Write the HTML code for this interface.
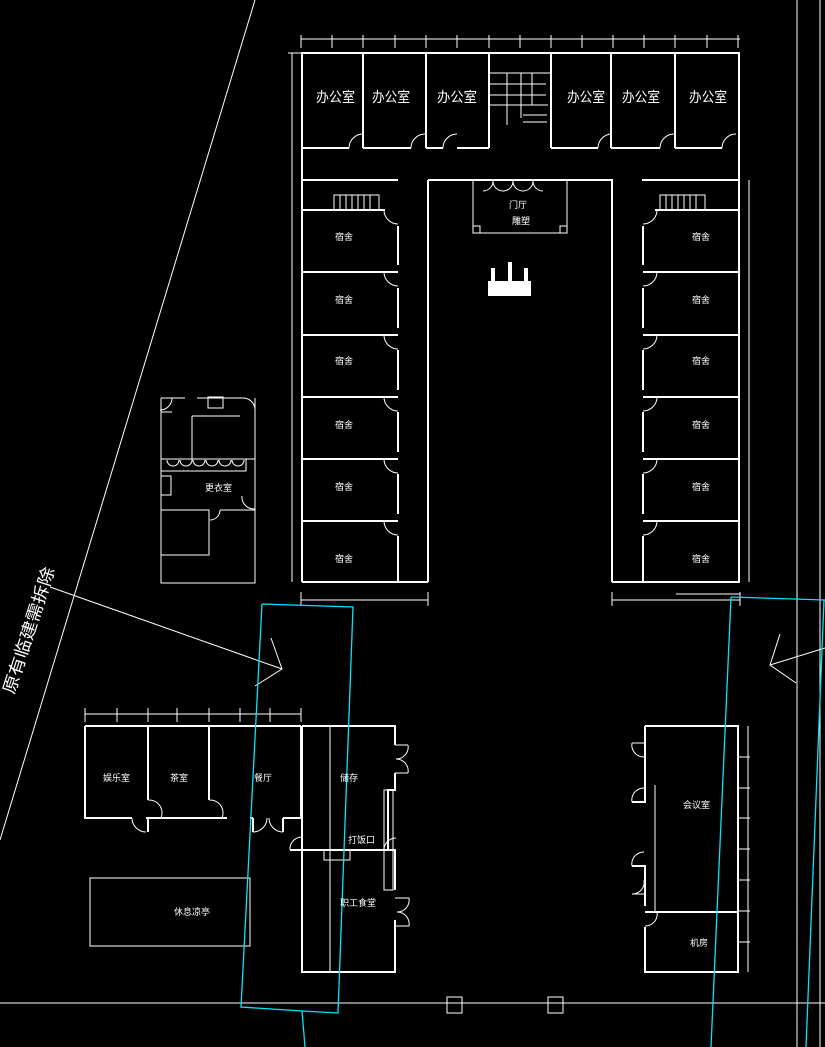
<!DOCTYPE html>
<html><head><meta charset="utf-8"><style>
html,body{margin:0;padding:0;background:#000;}
svg{display:block}
text{font-family:"Liberation Sans","Noto Sans CJK SC",sans-serif;fill:#fff}
</style></head><body>
<svg width="825" height="1047" viewBox="0 0 825 1047" xmlns="http://www.w3.org/2000/svg">
<rect width="825" height="1047" fill="#000"/>
<g stroke="#fff" fill="none">
<line x1="797" y1="0" x2="797" y2="1047" stroke-width="1"/>
<line x1="820" y1="0" x2="820" y2="1047" stroke-width="1"/>
<line x1="255" y1="0" x2="0" y2="840" stroke-width="1"/>
<line x1="50" y1="587" x2="282" y2="669" stroke-width="1"/>
<polyline points="271,638 282,669 255,686" stroke-width="1"/>
<line x1="770" y1="665" x2="825" y2="648" stroke-width="1"/>
<polyline points="780,634 770,665 796,683" stroke-width="1"/>
<line x1="0" y1="1003" x2="825" y2="1003" stroke-width="1"/>
<rect x="447" y="997" width="15" height="16" stroke-width="1"/>
<rect x="548" y="997" width="15" height="16" stroke-width="1"/>

<line x1="301" y1="39" x2="740" y2="39" stroke-width="1"/>
<g stroke-width="1">
<line x1="301" y1="35" x2="301" y2="48"/><line x1="332" y1="35" x2="332" y2="48"/><line x1="363" y1="35" x2="363" y2="48"/><line x1="395" y1="35" x2="395" y2="48"/><line x1="426" y1="35" x2="426" y2="48"/><line x1="457" y1="35" x2="457" y2="48"/><line x1="489" y1="35" x2="489" y2="48"/><line x1="520" y1="35" x2="520" y2="48"/><line x1="551" y1="35" x2="551" y2="48"/><line x1="582" y1="35" x2="582" y2="48"/><line x1="613" y1="35" x2="613" y2="48"/><line x1="644" y1="35" x2="644" y2="48"/><line x1="675" y1="35" x2="675" y2="48"/><line x1="707" y1="35" x2="707" y2="48"/><line x1="738" y1="35" x2="738" y2="48"/>
</g>
<line x1="292" y1="53" x2="292" y2="582" stroke-width="1"/>
<line x1="749" y1="180" x2="749" y2="582" stroke-width="1"/>
<line x1="288" y1="53" x2="301" y2="53" stroke-width="1"/>

<g stroke-width="2">
<line x1="301" y1="53" x2="740" y2="53"/>
<line x1="302" y1="53" x2="302" y2="148"/>
<line x1="739" y1="53" x2="739" y2="582"/>
<line x1="363" y1="53" x2="363" y2="148"/>
<line x1="426" y1="53" x2="426" y2="148"/>
<line x1="489" y1="53" x2="489" y2="148"/>
<line x1="551" y1="53" x2="551" y2="148"/>
<line x1="611" y1="53" x2="611" y2="148"/>
<line x1="675" y1="53" x2="675" y2="148"/>
<line x1="302" y1="148" x2="349" y2="148"/><line x1="363" y1="148" x2="411" y2="148"/><line x1="426" y1="148" x2="443" y2="148"/><line x1="457" y1="148" x2="489" y2="148"/>
<line x1="551" y1="148" x2="598" y2="148"/><line x1="611" y1="148" x2="660" y2="148"/><line x1="675" y1="148" x2="722" y2="148"/>
<line x1="302" y1="180" x2="398" y2="180"/><line x1="428" y1="180" x2="613" y2="180"/><line x1="642" y1="180" x2="740" y2="180"/>
<line x1="302" y1="148" x2="302" y2="582"/>
<line x1="302" y1="582" x2="428" y2="582"/><line x1="428" y1="180" x2="428" y2="582"/>
<line x1="612" y1="180" x2="612" y2="582"/><line x1="612" y1="582" x2="740" y2="582"/>
</g>
<g stroke-width="1">
<path d="M349,148 a14,14 0 0 1 14,-14"/><path d="M411,148 a14,14 0 0 1 14,-14"/><path d="M443,148 a14,14 0 0 1 14,-14"/>
<path d="M598,148 a14,14 0 0 1 14,-14"/><path d="M660,148 a14,14 0 0 1 14,-14"/><path d="M722,148 a14,14 0 0 1 14,-14"/>
<line x1="489" y1="73" x2="551" y2="73"/><line x1="489" y1="84" x2="546" y2="84"/><line x1="489" y1="95" x2="546" y2="95"/><line x1="489" y1="105" x2="548" y2="105"/>
<line x1="507" y1="73" x2="507" y2="125"/><line x1="521" y1="73" x2="521" y2="118"/><line x1="532" y1="73" x2="532" y2="105"/>
<line x1="523" y1="115" x2="547" y2="115"/><line x1="523" y1="122" x2="547" y2="122"/>
<rect x="473" y="180" width="94" height="53"/>
<path d="M483,191 a10,10 0 0 0 10,-10 M503,191 a10,10 0 0 1 -10,-10 M503,191 a10,10 0 0 0 10,-10 M523,191 a10,10 0 0 1 -10,-10 M523,191 a10,10 0 0 0 10,-10 M543,191 a10,10 0 0 1 -10,-10"/>
<rect x="473" y="226" width="7" height="7"/><rect x="560" y="226" width="7" height="7"/>
</g>
<rect x="488" y="281" width="43" height="15" fill="#fff" stroke="none"/>
<rect x="491" y="268" width="4" height="14" fill="#fff" stroke="none"/><rect x="508" y="262" width="4" height="20" fill="#fff" stroke="none"/><rect x="524" y="268" width="4" height="14" fill="#fff" stroke="none"/>

<g stroke-width="2">
<path d="M302,210 H385 M302,272 H398 M302,335 H398 M302,397 H398 M302,459 H398 M302,521 H398"/>
<path d="M398,226 V265 M398,288 V328 M398,350 V390 M398,412 V452 M398,474 V514 M398,536 V582"/>
<path d="M655,210 H740 M643,272 H740 M643,335 H740 M643,397 H740 M643,459 H740 M643,521 H740"/>
<path d="M643,226 V265 M643,288 V328 M643,350 V390 M643,412 V452 M643,474 V514 M643,536 V582"/>
</g>
<g stroke-width="1">
<path d="M384,210 a14,14 0 0 0 14,14 M384,272 a14,14 0 0 0 14,14 M384,335 a14,14 0 0 0 14,14 M384,397 a14,14 0 0 0 14,14 M384,459 a14,14 0 0 0 14,14 M384,521 a14,14 0 0 0 14,14"/>
<path d="M657,210 a14,14 0 0 1 -14,14 M657,272 a14,14 0 0 1 -14,14 M657,335 a14,14 0 0 1 -14,14 M657,397 a14,14 0 0 1 -14,14 M657,459 a14,14 0 0 1 -14,14 M657,521 a14,14 0 0 1 -14,14"/>
<rect x="334" y="195" width="45" height="15"/><path d="M340,195V210M346,195V210M352,195V210M358,195V210M364,195V210M370,195V210"/>
<rect x="660" y="195" width="45" height="15"/><path d="M666,195V210M672,195V210M678,195V210M684,195V210M690,195V210M696,195V210"/>
<line x1="301" y1="600" x2="428" y2="600"/><line x1="301" y1="592" x2="301" y2="606"/><line x1="428" y1="592" x2="428" y2="606"/>
<line x1="612" y1="600" x2="740" y2="600"/><line x1="612" y1="592" x2="612" y2="606"/><line x1="740" y1="592" x2="740" y2="606"/>
<line x1="676" y1="594" x2="740" y2="594"/>
</g>

<g stroke-width="1">
<path d="M161,398 H185 M197,398 H242 M255,398 V583 H161 V398"/>
<path d="M161,412 H172 M172,398 a12,12 0 0 1 -12,12"/>
<rect x="208" y="397" width="15" height="11"/>
<path d="M192,416 V460 M192,416 H240 M242,398 a12,12 0 0 1 13,12"/>
<path d="M161,459 H255 M161,471 H246 V459"/>
<path d="M167,460 a6,6 0 0 0 12,0 M180,460 a6,6 0 0 0 12,0 M193,460 a6,6 0 0 0 12,0 M206,460 a6,6 0 0 0 12,0 M219,460 a6,6 0 0 0 12,0 M232,460 a6,6 0 0 0 12,0"/>
<rect x="161" y="476" width="10" height="19"/>
<path d="M161,510 H209 V555 H161 M220,510 H255 M242,496 a12,12 0 0 0 13,13 M220,510 a10,10 0 0 1 -10,10"/>
</g>

<g stroke-width="1">
<line x1="85" y1="714" x2="301" y2="714"/>
<path d="M85,708V722 M117,708V722 M148,708V722 M177,708V722 M209,708V722 M240,708V722 M270,708V722 M301,708V722"/>
</g>
<g stroke-width="2">
<path d="M85,726 H301 M85,726 V818 H132 M146,818 H227 M148,726 V800 M209,726 V800 M250,818 H253 M283,818 H301 V726"/>
<path d="M148,818 V832 M253,818 V832 M283,818 V832"/>
<path d="M302,726 H395 V745 M395,773 V790 H388 V850 M302,726 V972 H395 V920 M395,890 V850 H388"/>
<path d="M290,850 H395"/>
</g>
<g stroke-width="1">
<path d="M132,818 a14,14 0 0 0 14,14 M148,800 a13,13 0 0 1 13,18 M209,800 a13,13 0 0 1 13,18 M253,832 a14,14 0 0 0 14,-14 M283,832 a14,14 0 0 1 -14,-14"/>
<path d="M395,745 H408 M395,773 H408 M408,745 a12,12 0 0 1 -12,14 M408,773 a12,12 0 0 0 -12,-14"/>
<path d="M395,898 H409 M395,926 H409 M409,898 a12,12 0 0 1 -12,14 M409,926 a12,12 0 0 0 -12,-14"/>
<path d="M290,850 a12,12 0 0 1 12,-13 M384,850 a12,12 0 0 1 12,-12"/>
<line x1="330" y1="726" x2="330" y2="972"/>
<rect x="324" y="850" width="26" height="10"/>
<rect x="384" y="790" width="9" height="100"/>
<rect x="90" y="878" width="160" height="68"/>
</g>

<g stroke-width="2">
<path d="M645,726 H738 V972 H645 V927 M645,912 H738 M645,906 V866 H632 M632,802 H645 V726"/>
<path d="M738,726 V972"/>
</g>
<g stroke-width="1">
<path d="M632,743 H645 M632,802 a12,12 0 0 1 12,-14 M632,743 a12,12 0 0 0 12,14 M632,866 a12,12 0 0 1 12,-14 M632,894 H645 M632,894 a12,12 0 0 0 12,-14 M657,912 a12,12 0 0 1 -12,14"/>
<line x1="655" y1="785" x2="655" y2="912"/>
<line x1="748" y1="726" x2="748" y2="972"/>
<path d="M738,757 H750 M738,788 H750 M738,818 H750 M738,849 H750 M738,880 H750 M738,911 H750 M738,942 H750"/>
</g>
</g>

<g stroke="#00e5ff" stroke-width="1.3" fill="none">
<polyline points="262,604 353,607 338,1013 302,1011 241,1007 262,604"/>
<polyline points="302,1011 305,1047"/>
<polyline points="731,597 825,600"/>
<polyline points="731,597 711,1047"/>
<polyline points="824,600 806,1047"/>
</g>

<g font-size="14">
<text x="316" y="102" textLength="39" lengthAdjust="spacingAndGlyphs">办公室</text>
<text x="372" y="102" textLength="38" lengthAdjust="spacingAndGlyphs">办公室</text>
<text x="437" y="102" textLength="40" lengthAdjust="spacingAndGlyphs">办公室</text>
<text x="567" y="102" textLength="38" lengthAdjust="spacingAndGlyphs">办公室</text>
<text x="622" y="102" textLength="38" lengthAdjust="spacingAndGlyphs">办公室</text>
<text x="689" y="102" textLength="38" lengthAdjust="spacingAndGlyphs">办公室</text>
</g>
<g font-size="9">
<text x="509" y="208">门厅</text><text x="512" y="224">雕塑</text>
<text x="335" y="240">宿舍</text><text x="335" y="303">宿舍</text><text x="335" y="364">宿舍</text><text x="335" y="428">宿舍</text><text x="335" y="490">宿舍</text><text x="335" y="562">宿舍</text>
<text x="692" y="240">宿舍</text><text x="692" y="303">宿舍</text><text x="692" y="364">宿舍</text><text x="692" y="428">宿舍</text><text x="692" y="490">宿舍</text><text x="692" y="562">宿舍</text>
<text x="103" y="781">娱乐室</text><text x="170" y="781">茶室</text><text x="254" y="781">餐厅</text>
<text x="340" y="781">储存</text><text x="348" y="843">打饭口</text><text x="340" y="906">职工食堂</text>
<text x="174" y="915">休息凉亭</text>
<text x="683" y="808">会议室</text><text x="690" y="946">机房</text>
<text x="205" y="491">更衣室</text>
</g>
<text transform="translate(14,695) rotate(-72)" font-size="17" fill="#ddd" textLength="132" lengthAdjust="spacingAndGlyphs">原有临建需拆除</text>
</svg>
</body></html>
